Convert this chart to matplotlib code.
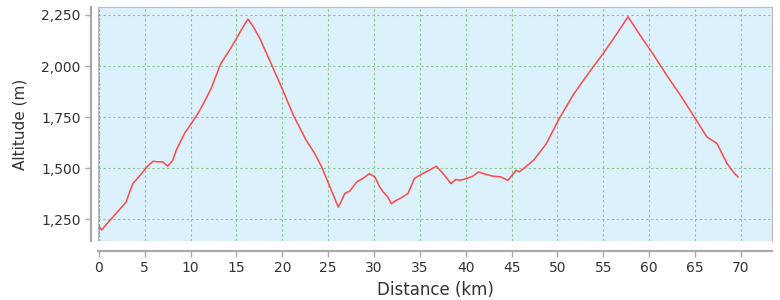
import matplotlib.pyplot as plt
from matplotlib.patches import Rectangle
from matplotlib.ticker import FuncFormatter

# elevation profile
distance_km = [0.0, 0.3, 1.0, 2.0, 2.97, 3.4, 3.7, 4.2, 4.8, 5.3, 5.9, 6.3, 6.97, 7.5,
               8.06, 8.43, 9.33, 10.07, 10.8, 11.5, 12.25, 13.3, 14.2, 15.0, 15.7, 16.25,
               16.8, 17.55, 18.7, 19.9, 21.2, 22.6, 23.5, 24.3, 25.2, 26.1, 26.5, 26.8,
               27.4, 28.1, 28.8, 29.5, 30.1, 30.6, 31.0, 31.5, 31.9, 32.3, 32.8, 33.3,
               33.7, 34.4, 35.3, 36.0, 36.8, 37.6, 38.4, 38.9, 39.4, 40.1, 40.8, 41.4,
               42.2, 43.0, 43.8, 44.6, 45.5, 45.85, 47.4, 48.8, 50.1, 51.7, 53.5, 55.0,
               56.5, 57.7, 59.0, 60.5, 61.9, 63.4, 64.8, 66.3, 67.4, 68.5, 69.2, 69.7]
altitude_m = [1215, 1198, 1235, 1285, 1335, 1390, 1425, 1450, 1482, 1510, 1534, 1532,
              1531, 1510, 1539, 1588, 1670, 1719, 1768, 1825, 1892, 2013, 2075,
              2135, 2190, 2230, 2195, 2135, 2020, 1898, 1760, 1637, 1575, 1506, 1408,
              1310, 1345, 1376, 1390, 1433, 1450, 1474, 1457, 1410, 1384, 1360, 1326,
              1340, 1351, 1365, 1376, 1450, 1474, 1490, 1510, 1470, 1425, 1445, 1441,
              1450, 1462, 1482, 1470, 1461, 1458, 1441, 1490, 1482, 1539, 1621, 1735,
              1858, 1972, 2062, 2160, 2241, 2152, 2054, 1956, 1858, 1760, 1653, 1621,
              1523, 1480, 1457]

x_ticks = list(range(0, 75, 5))
y_ticks = [1250, 1500, 1750, 2000, 2250]

fig = plt.figure(figsize=(7.8, 3.0), dpi=100)
ax = fig.add_axes([98 / 780, 59 / 300, 674 / 780, 234 / 300])
ax.set_facecolor('#ddf1fc')

ax.plot(distance_km, altitude_m, color='#ff4848', lw=1.1, zorder=3)

ax.set_xlim(-0.1, 73.4)
ax.set_ylim(1144, 2289)
ax.set_xticks(x_ticks)
ax.set_yticks(y_ticks)
ax.yaxis.set_major_formatter(FuncFormatter(lambda v, p: f"{int(v):,}"))

ax.grid(True, color='#8cc98f', linestyle=(0, (2.2, 2.2)), lw=0.8)
ax.set_axisbelow(True)

# JFreeChart-like offset axes
ax.spines['left'].set_position(('outward', 5))
ax.spines['bottom'].set_position(('outward', 7))
for side in ['left', 'bottom']:
    ax.spines[side].set_color('#aaaaaa')
    ax.spines[side].set_linewidth(1.6)
for side in ['top', 'right']:
    ax.spines[side].set_color('#bbbbbb')
    ax.spines[side].set_linewidth(0.8)
ax.add_patch(Rectangle((0, 0), 1, 1, transform=ax.transAxes, fill=False,
                       edgecolor='#bbbbbb', lw=0.8, zorder=4))
ax.axvline(0, color='#8090d0', lw=0.7, linestyle=(0, (2, 2)), zorder=2)

ax.tick_params(colors='#aaaaaa', labelcolor='#333333', labelsize=10, length=4, width=1)
ax.set_xlabel('Distance (km)', fontsize=12, color='#333333', labelpad=4)
ax.set_ylabel('Altitude (m)', fontsize=11, color='#333333', labelpad=10)

fig.savefig('out.png', dpi=100)
